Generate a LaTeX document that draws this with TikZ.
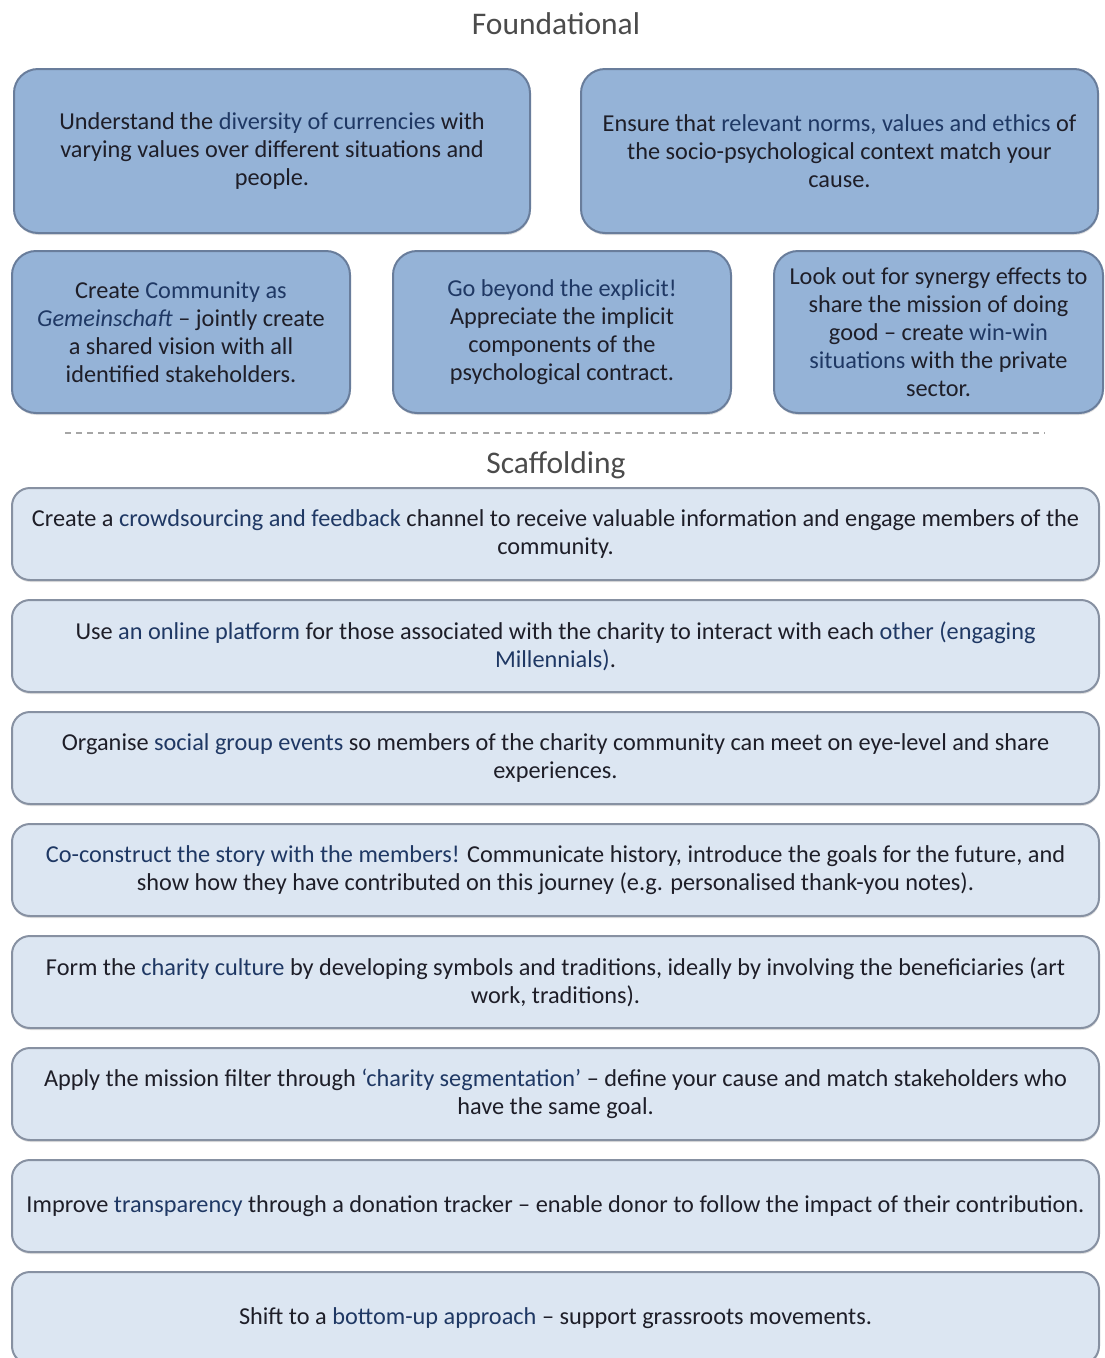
\documentclass[tikz,border=0pt]{standalone}
\usepackage{fontspec}
\setmainfont{Carlito}
\usepackage{xcolor}
\usetikzlibrary{shadows}
\definecolor{darkfill}{RGB}{149,179,215}
\definecolor{darkline}{RGB}{105,125,155}
\definecolor{lightfill}{RGB}{220,230,242}
\definecolor{lightline}{RGB}{135,145,162}
\definecolor{bodytext}{RGB}{30,30,40}
\definecolor{hlblue}{RGB}{31,56,100}
\definecolor{titlegray}{RGB}{75,75,75}
\tikzset{
  every node/.style = {font=\fontsize{24.3}{28}\selectfont, text=bodytext, align=center}
}
\tikzset{
  soft shadow/.style = {drop shadow={opacity=0.25, shadow xshift=0.5pt, shadow yshift=-2pt}},
  foundational box/.style = {draw=darkline, fill=darkfill, line width=2pt, rounded corners=24pt,
    soft shadow},
  scaffold box/.style = {draw=lightline, fill=lightfill, line width=2pt, rounded corners=18pt,
    minimum width=1087pt, minimum height=92pt, soft shadow},
  section title/.style = {font=\fontsize{31.5}{36}\selectfont, text=titlegray}
}
\newcommand{\hl}[1]{\textcolor{hlblue}{#1}}

\begin{document}
\begin{tikzpicture}[x=1pt, y=-1pt]
  \useasboundingbox (0,0) rectangle (1105,1358);

  % Foundational
  \node[section title] (found) at (556,24) {Foundational};

  \node[foundational box, minimum width=516pt, minimum height=164pt] (currencies) at (272,151)
    {Understand the \hl{diversity of currencies} with\\ varying values over different situations and\\ people.};
  \node[foundational box, minimum width=517pt, minimum height=164pt] (norms) at (839.5,151)
    {Ensure that \hl{relevant norms, values and ethics} of\\ the socio-psychological context match your\\ cause.};

  \node[foundational box, minimum width=338pt, minimum height=162pt] (community) at (181,332)
    {Create \hl{Community as}\\ \hl{\textit{Gemeinschaft}} -- jointly create\\ a shared vision with all\\ identified stakeholders.};
  \node[foundational box, minimum width=338pt, minimum height=162pt] (explicit) at (562,332)
    {\hl{Go beyond the explicit!}\\ Appreciate the implicit\\ components of the\\ psychological contract.};
  \node[foundational box, minimum width=329pt, minimum height=162pt] (synergy) at (938.5,332)
    {Look out for synergy effects to\\ share the mission of doing\\ good -- create \hl{win-win}\\ \hl{situations} with the private\\ sector.};

  % divider
  \coordinate (divL) at (65,433);
  \coordinate (divR) at (1045,433);
  \draw[black!35, line width=2pt, dash pattern=on 6pt off 5pt] (divL) -- (divR);

  % Scaffolding
  \node[section title] (scaff) at (556,465) {Scaffolding};

  \foreach \i/\txt in {
    1/{Create a \hl{crowdsourcing and feedback} channel to receive valuable information and engage members of the\\ community.},
    2/{Use \hl{an online platform} for those associated with the charity to interact with each \hl{other (engaging}\\ \hl{Millennials)}.},
    3/{Organise \hl{social group events} so members of the charity community can meet on eye-level and share\\ experiences.},
    4/{\hl{Co-construct the story with the members!} Communicate history, introduce the goals for the future, and\\ show how they have contributed on this journey (e.g. personalised thank-you notes).},
    5/{Form the \hl{charity culture} by developing symbols and traditions, ideally by involving the beneficiaries (art\\ work, traditions).},
    6/{Apply the mission filter through \hl{‘charity segmentation’} -- define your cause and match stakeholders who\\ have the same goal.},
    7/{Improve \hl{transparency} through a donation tracker -- enable donor to follow the impact of their contribution.},
    8/{Shift to a \hl{bottom-up approach} -- support grassroots movements.}} {
    \node[scaffold box] (s\i) at (555.5,{534+112*(\i-1)}) {\txt};
  }
\end{tikzpicture}
\end{document}
